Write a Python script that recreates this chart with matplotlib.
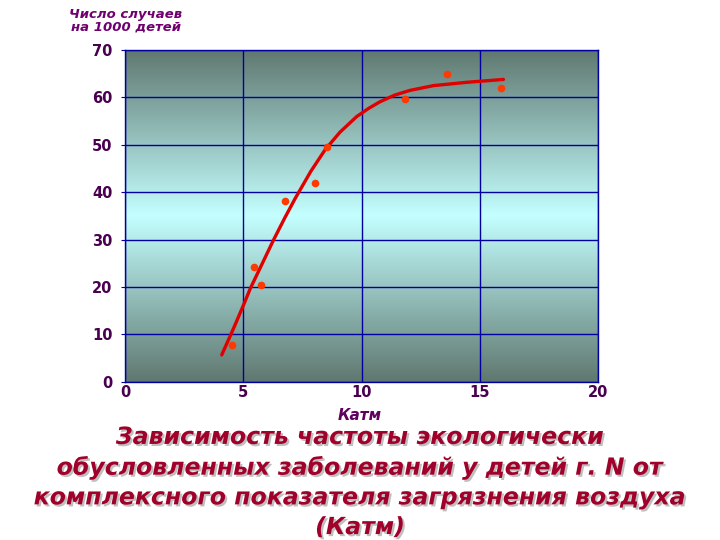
import matplotlib
matplotlib.use("Agg")
import matplotlib.pyplot as plt
import numpy as np
from matplotlib.colors import LinearSegmentedColormap
import matplotlib.patheffects as pe

# Data
katm = [4.54, 5.47, 5.74, 6.77, 8.03, 8.53, 11.84, 13.6, 15.9]
cases = [7.8, 24.3, 20.4, 38.1, 42.0, 49.5, 59.5, 64.8, 62.0]

trend_x = [4.09, 4.6, 5.07, 5.29, 5.8, 6.27, 6.75, 7.19, 7.85, 8.46, 9.09,
           9.8, 10.3, 10.78, 11.4, 12.05, 13.04, 14.45, 16.0]
trend_y = [5.7, 11.4, 16.9, 19.6, 24.9, 29.8, 34.5, 38.6, 44.3, 48.9, 52.6,
           55.9, 57.6, 59.0, 60.4, 61.4, 62.4, 63.1, 63.7]

x_ticks = [0, 5, 10, 15, 20]
y_ticks = [0, 10, 20, 30, 40, 50, 60, 70]

title = ("Зависимость частоты экологически\n"
         "обусловленных заболеваний у детей г. N от\n"
         "комплексного показателя загрязнения воздуха\n"
         "(Катм)")

fig = plt.figure(figsize=(7.2, 5.4), dpi=100)
fig.patch.set_facecolor("white")
ax = fig.add_axes([0.1736, 0.2926, 0.8306 - 0.1736, 0.9083 - 0.2926])

# gradient background
cmap = LinearSegmentedColormap.from_list(
    "bg", [(0.0, "#5f7870"), (0.5, "#c4ffff"), (1.0, "#5f7870")])
grad = np.linspace(0, 1, 256).reshape(-1, 1)
ax.imshow(grad, extent=[0, 1, 0, 1], transform=ax.transAxes, cmap=cmap,
          aspect="auto", zorder=0, interpolation="bicubic")

ax.set_xlim(0, 20)
ax.set_ylim(0, 70)
ax.set_xticks(x_ticks)
ax.set_yticks(y_ticks)
ax.grid(True, color="#0000a0", linewidth=1.0, zorder=1)
for s in ax.spines.values():
    s.set_color("#0000a0")
    s.set_linewidth(1.0)

ax.plot(trend_x, trend_y, color="#e00000", linewidth=2.4, zorder=3,
        solid_capstyle="round", solid_joinstyle="round")
ax.plot(katm, cases, linestyle="none", marker="o", markersize=4.5,
        color="#ff3a00", zorder=4)

tick_col = "#4a0050"
ax.tick_params(axis="both", colors="#0000a0", labelcolor=tick_col,
               labelsize=10.5, length=3, direction="out")
ax.tick_params(axis="x", pad=2, length=0)
ax.tick_params(axis="y", pad=6)
for lab in ax.get_xticklabels() + ax.get_yticklabels():
    lab.set_fontweight("bold")

fig.text(126 / 720, 1 - 21 / 540, "Число случаев\nна 1000 детей",
         ha="center", va="center", fontsize=9.5, fontweight="bold",
         fontstyle="italic", color="#700070", linespacing=1.0)

fig.text(360 / 720, 1 - 415 / 540, "Катм", ha="center", va="center",
         fontsize=11, fontweight="bold", fontstyle="italic", color="#600060")

fig.text(0.5, 1 - 482 / 540, title, ha="center", va="center",
         fontsize=17, fontweight="bold", fontstyle="italic",
         color="#a0002a", linespacing=1.3,
         path_effects=[pe.withSimplePatchShadow(offset=(1.5, -1.5),
                                                shadow_rgbFace="#b0b0b0",
                                                alpha=0.8)])

fig.savefig("out.png", dpi=100)
